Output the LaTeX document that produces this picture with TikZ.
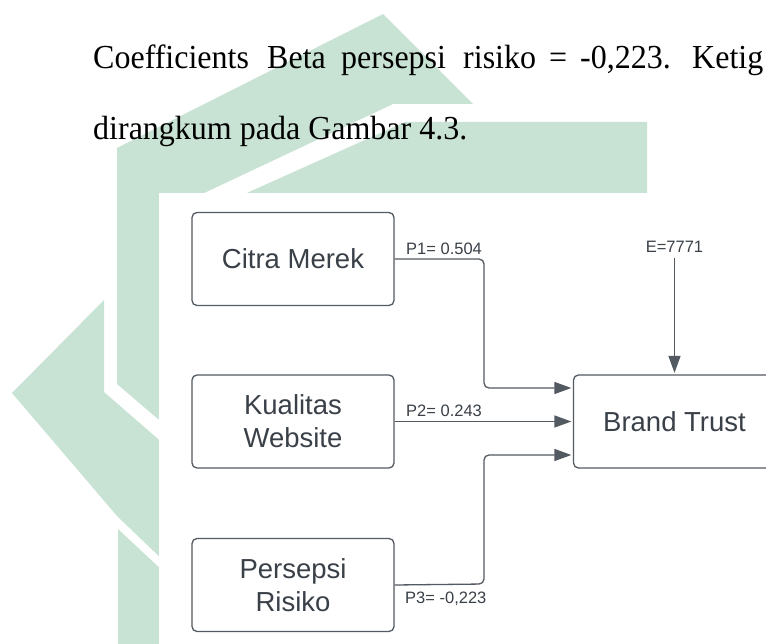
\documentclass[tikz,border=0pt]{standalone}
\usepackage{fontspec}
\setmainfont{Liberation Serif}
\setsansfont{Liberation Sans}
\usetikzlibrary{arrows.meta}
\definecolor{wm}{RGB}{200,227,211}
\definecolor{linec}{RGB}{84,90,98}
\definecolor{txtc}{RGB}{58,64,72}
\begin{document}
\begin{tikzpicture}[x=1pt,y=-1pt,
  boxnode/.style={draw=linec, line width=1.3pt, rounded corners=5pt,
    minimum width=202pt, minimum height=93pt, inner sep=0pt,
    font=\sffamily\fontsize{27.5}{33}\selectfont, text=txtc, align=center},
  conn/.style={draw=linec, line width=1.3pt, rounded corners=5pt,
    -{Triangle[length=17pt,width=12pt]}, shorten >=1.5pt},
  lbl/.style={font=\sffamily\fontsize{16.5}{19}\selectfont, text=txtc, inner sep=0pt},
  body/.style={font=\fontsize{32}{38}\selectfont, inner sep=0pt, anchor=base west, yscale=1.05}
]
\useasboundingbox (0,0) rectangle (766,644);
\clip (0,0) rectangle (766,644);
% watermark
\fill[wm] (383,14) -- (473,104) -- (393,104) -- (200,195) -- (165,210) -- (165,425) -- (117,384) -- (117,148) -- cycle;
\fill[wm] (405,122) -- (647,122) -- (647,205) -- (220,205) -- cycle;
\fill[wm] (12,393) -- (104,300) -- (104,392) -- (165,445) -- (165,562) -- (117,516) -- cycle;
\fill[wm] (118,529) -- (165,573) -- (165,650) -- (118,650) -- cycle;
% body text
\node[body] (w1) at (93,69) {Coefficients};
\node[body] (w2) at (267,69) {Beta};
\node[body] (w3) at (341,69) {persepsi};
\node[body] (w4) at (463,69) {risiko};
\node[body] (w5) at (549,69) {=};
\node[body] (w6) at (580,69) {-0,223.};
\node[body] (w7) at (692,69) {Ketig};
\node[body] (w8) at (93,140) {dirangkum pada Gambar 4.3.};
% diagram background
\fill[white] (159,193) rectangle (780,660);
% nodes
\node[boxnode] (citra) at (293,259) {Citra Merek};
\node[boxnode] (kual) at (293,421.5) {Kualitas\\Website};
\node[boxnode] (pers) at (293,585) {Persepsi\\Risiko};
\node[boxnode] (brand) at (674.5,421.5) {Brand Trust};
% labels
\node[lbl, anchor=base west] (p1) at (406,255) {P1= 0.504};
\node[lbl, anchor=base west] (p2) at (406,417) {P2= 0.243};
\node[lbl, anchor=base west] (p3) at (405,603) {P3= -0,223};
\node[lbl, anchor=base] (e) at (674.5,253) {E=7771};
% connectors
\coordinate (b1) at (484,259);
\coordinate (b2) at (484,388);
\coordinate (b3) at (484,584);
\coordinate (b4) at (484,455);
\draw[conn] (citra.east) -- (b1) -- (b2) -- ([yshift=33.5pt]brand.west);
\draw[conn] (kual.east) -- (brand.west);
\draw[conn] (pers.east) -- (b3) -- (b4) -- ([yshift=-33.5pt]brand.west);
\draw[conn] ([yshift=-5pt]e.base) -- (brand.north);
\end{tikzpicture}
\end{document}
